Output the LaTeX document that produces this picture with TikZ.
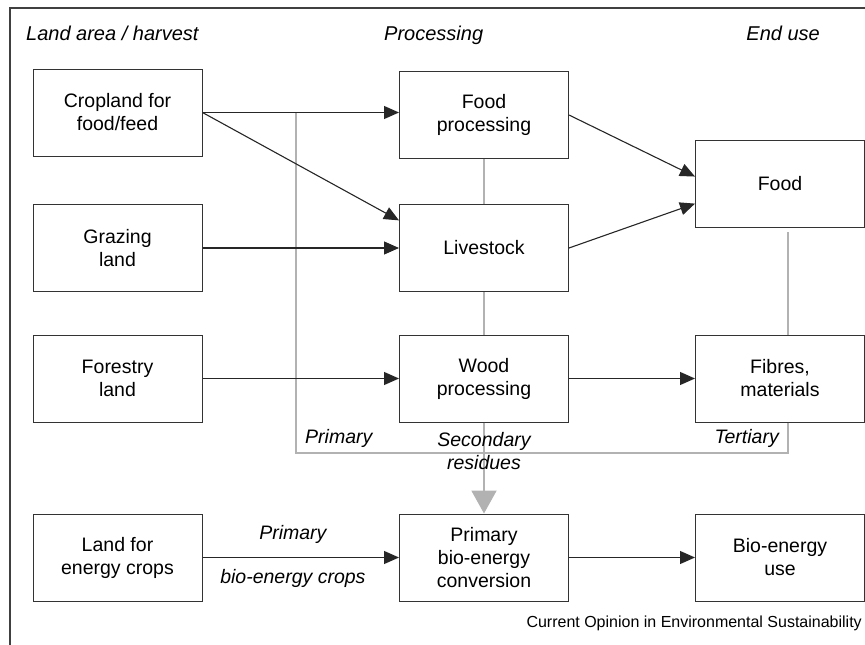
\documentclass[tikz,border=0pt]{standalone}
\usepackage{fontspec}
\setmainfont{Liberation Sans}
\usetikzlibrary{arrows.meta,positioning}

\newcommand{\boxfont}{\fontsize{19.5}{23}\selectfont}
\newcommand{\tagfont}{\fontsize{19.5}{23}\selectfont\itshape}

\tikzset{
  landbox/.style={draw=black!80, line width=1pt, minimum width=169pt, minimum height=87pt,
    align=center, inner sep=0pt, font=\boxfont},
  flow/.style={-{Triangle[length=15pt,width=13pt]}, line width=1.1pt, draw=black!85},
  residue/.style={draw=black!30, line width=2pt},
  tag/.style={font=\tagfont, inner sep=0pt},
  head/.style={font=\fontsize{20}{24}\selectfont\itshape, inner sep=0pt},
}

\begin{document}
\begin{tikzpicture}[x=1pt,y=-1pt]
                \useasboundingbox (0,0) rectangle (865,645);
                % frame, top and left only
                \draw[black!75, line width=1.2pt] (10,645) -- (10,8) -- (865,8);

                % column headings
                \node[head, anchor=base west] (landhd) at (26,40) {Land area / harvest};
                \node[head, anchor=base west] (prochd) at (384,40) {Processing};
                \node[head, anchor=base east] (endhd) at (820,40) {End use};

                % land boxes
                \node[landbox] (crop) at (117.5,112.5) {Cropland for\\food/feed};
                \node[landbox] (graze) at (117.5,248) {Grazing\\land};
                \node[landbox] (forest) at (117.5,378.5) {Forestry\\land};
                \node[landbox] (eland) at (117.5,557.5) {Land for\\energy crops};

                % processing boxes
                \node[landbox] (foodproc) at (484,115) {Food\\processing};
                \node[landbox] (livestock) at (484,248) {Livestock};
                \node[landbox] (wood) at (484,378.5) {Wood\\processing};
                \node[landbox] (pbio) at (484,557.5) {Primary\\bio-energy\\conversion};

                % end use boxes
                \node[landbox] (food) at (780,184) {Food};
                \node[landbox] (fibres) at (780,378.5) {Fibres,\\materials};
                \node[landbox] (biouse) at (780,557.5) {Bio-energy\\use};

                % residue lines (grey)
                \coordinate (tert) at ([xshift=8pt]fibres.south);
                \coordinate (collect) at (296,453);
                \coordinate (prim) at (296,112.5);
                \draw[residue] (tert) |- (collect) -- (prim);
                \draw[residue] (foodproc.south) -- (livestock.north);
                \draw[residue] (livestock.south) -- (wood.north);
                \draw[residue, shorten <=4pt] ([xshift=8pt]food.south) -- ([xshift=8pt]fibres.north);
                \draw[residue, -{Triangle[length=23pt,width=25pt]}] (wood.south) -- (pbio.north);

                \node[tag, anchor=base west] (primlbl) at (305,443) {Primary};
                \node[tag, anchor=north, align=center] (seclbl) at (484,432.5) {Secondary\\residues};
                \node[tag, anchor=base east] (terlbl) at (779,443) {Tertiary};

                % material flows
                \draw[flow] (crop.east) -- (crop.east -| foodproc.west);
                \draw[flow] (crop.east) -- (livestock.162);
                \draw[flow] (graze) -- (livestock);
                \draw[flow] (forest) -- (wood);
                \draw[flow] (foodproc.east) -- (food.175);
                \draw[flow] (livestock.east) -- (food.193);
                \draw[flow] (wood) -- (fibres);
                \draw[flow] (eland) -- node[tag, above=13pt, pos=0.46] (enlbl) {Primary}
                    node[tag, below=11pt, pos=0.46] (cropslbl) {bio-energy crops} (pbio);
                \draw[flow] (pbio) -- (biouse);

                \node[anchor=base east, inner sep=0pt, font=\fontsize{16}{19}\selectfont] (credit)
                    at (862,627) {Current Opinion in Environmental Sustainability};
            \end{tikzpicture}
\end{document}
